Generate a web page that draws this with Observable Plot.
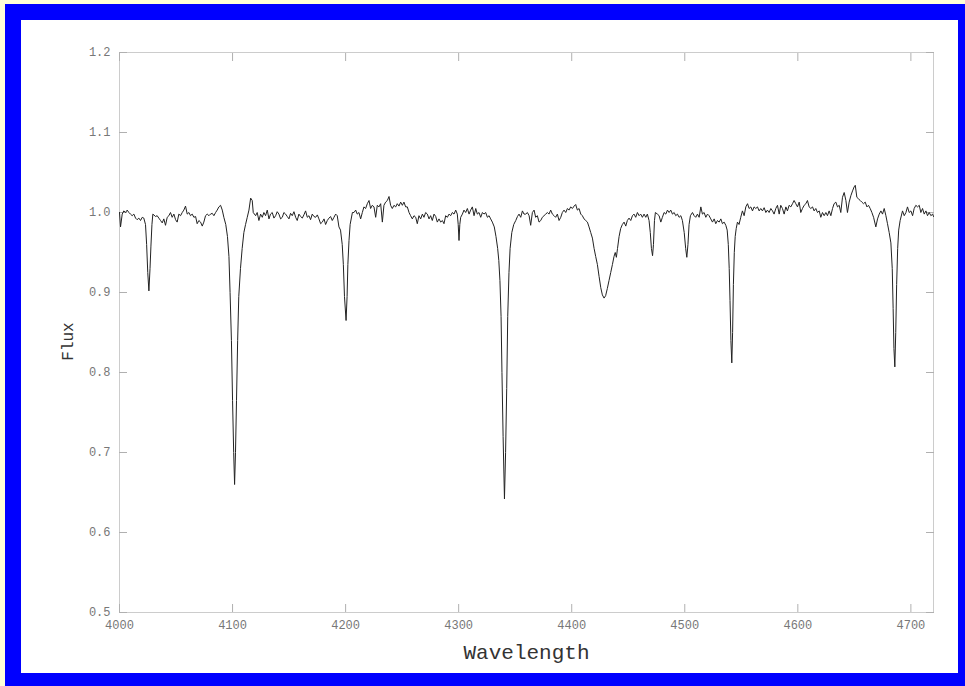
<!DOCTYPE html>
<html>
<head>
<meta charset="utf-8">
<script src="https://cdn.jsdelivr.net/npm/d3@7"></script>
<script src="https://cdn.jsdelivr.net/npm/@observablehq/plot@0.6"></script>
<style>
  html, body { margin: 0; padding: 0; }
  body { width: 965px; height: 686px; overflow: hidden; position: relative; background: #ffffd8; }
  #box { position: absolute; left: 5px; top: 4px; width: 937px; height: 653px; border: 16px solid #0000ff; background: #ffffff; }
  #box svg { display: block; }
</style>
</head>
<body>
<div id="box"></div>
<script>
const wavelength = [
4000.0,4000.9,4002.4,4003.8,4005.3,4006.8,4008.3,4009.7,4011.2,4012.7,4014.2,4015.6,4017.1,4018.6,4020.1,4021.5,
4023.0,4024.0,4025.0,4026.0,4027.0,4027.8,4028.7,4029.5,4031.9,4033.3,4034.8,4036.3,4037.8,4039.2,4040.7,4042.2,
4043.7,4045.1,4046.6,4048.1,4049.6,4051.0,4052.5,4054.0,4055.5,4056.9,4058.4,4059.9,4061.4,4062.8,4064.3,4065.8,
4067.3,4068.7,4070.2,4071.7,4073.2,4074.6,4076.1,4077.6,4079.1,4080.5,4082.0,4083.5,4085.0,4086.4,4087.9,4089.4,
4090.9,4092.3,4094.0,4095.5,4096.8,4097.8,4099.0,4100.0,4101.0,4101.8,4102.6,4103.5,4104.5,4105.5,4107.0,4108.5,
4110.0,4111.5,4113.0,4114.5,4116.0,4117.4,4118.3,4120.4,4121.8,4123.3,4124.8,4126.3,4127.7,4129.2,4130.7,4132.2,
4133.6,4135.1,4136.6,4138.1,4139.5,4141.0,4142.5,4144.0,4145.4,4146.9,4148.4,4149.9,4151.3,4152.8,4154.3,4155.8,
4157.2,4158.7,4160.2,4161.7,4163.1,4164.6,4166.1,4167.6,4169.0,4170.5,4172.0,4173.5,4175.0,4176.4,4177.9,4179.4,
4180.9,4182.3,4183.8,4185.3,4186.7,4188.2,4189.7,4191.2,4192.6,4194.1,4195.5,4197.0,4198.0,4199.0,4200.4,4201.3,
4202.0,4203.0,4204.0,4206.0,4207.4,4208.9,4210.3,4211.8,4213.3,4214.8,4216.2,4217.7,4219.2,4220.7,4222.1,4223.6,
4225.1,4226.6,4228.0,4229.5,4231.0,4232.5,4233.9,4235.4,4236.9,4238.4,4239.8,4241.3,4242.8,4244.3,4245.7,4247.2,
4248.7,4250.2,4251.6,4253.1,4254.6,4256.1,4257.5,4259.0,4260.5,4262.0,4263.4,4264.9,4266.4,4267.9,4269.3,4270.8,
4272.3,4273.8,4275.2,4276.7,4278.2,4279.7,4281.1,4282.6,4284.1,4285.6,4287.0,4288.5,4290.0,4291.5,4292.9,4294.4,
4295.9,4297.4,4298.8,4299.6,4300.3,4301.0,4301.8,4303.3,4304.7,4306.2,4307.7,4309.2,4310.6,4312.1,4313.6,4315.1,
4316.5,4318.0,4319.5,4321.0,4322.4,4323.9,4325.4,4326.9,4328.3,4329.8,4331.5,4333.0,4334.5,4335.5,4336.5,4337.5,
4338.3,4339.3,4340.5,4341.5,4342.5,4343.4,4344.5,4345.5,4347.0,4348.7,4350.5,4352.0,4353.4,4354.9,4356.4,4357.8,
4359.3,4360.8,4362.3,4363.7,4365.2,4366.7,4368.1,4369.6,4371.1,4372.6,4374.0,4375.5,4377.0,4378.5,4379.9,4381.4,
4382.9,4384.4,4385.8,4387.3,4388.8,4390.3,4391.7,4393.2,4394.7,4396.2,4397.6,4399.1,4400.6,4402.1,4403.5,4405.0,
4406.5,4408.0,4409.4,4410.9,4412.4,4413.9,4415.3,4416.8,4418.3,4419.8,4421.2,4422.7,4424.2,4425.7,4427.1,4428.6,
4430.0,4431.5,4433.0,4434.5,4436.0,4437.4,4438.5,4439.5,4440.5,4441.9,4443.3,4444.8,4446.3,4447.8,4449.2,4450.7,
4452.2,4453.7,4455.1,4456.6,4458.1,4459.6,4461.0,4462.5,4464.0,4465.5,4466.9,4468.4,4469.5,4470.5,4471.5,4472.3,
4473.2,4474.0,4475.8,4477.3,4478.8,4480.2,4481.7,4483.2,4484.7,4486.1,4487.6,4489.1,4490.6,4492.0,4493.5,4495.0,
4496.5,4497.9,4499.5,4500.8,4501.8,4502.8,4503.8,4505.0,4506.8,4508.3,4509.7,4511.2,4512.7,4514.2,4515.6,4517.1,
4518.6,4520.1,4521.5,4523.0,4524.5,4526.0,4527.4,4528.9,4530.4,4531.9,4533.3,4534.8,4536.3,4537.5,4538.5,4539.3,
4540.0,4540.8,4541.6,4542.3,4543.0,4543.8,4544.6,4545.5,4546.6,4548.0,4549.5,4551.0,4552.5,4554.0,4555.5,4556.9,
4558.4,4559.9,4561.3,4562.8,4564.3,4565.8,4567.2,4568.7,4570.2,4571.7,4573.1,4574.6,4576.1,4577.6,4579.0,4580.5,
4582.0,4583.5,4584.9,4586.4,4587.9,4589.4,4590.8,4592.3,4593.8,4595.3,4596.7,4598.2,4599.7,4601.2,4602.6,4604.1,
4605.6,4607.1,4608.5,4610.0,4611.5,4613.0,4614.4,4615.9,4617.4,4618.9,4620.3,4621.8,4623.3,4624.8,4626.2,4627.7,
4629.2,4630.7,4632.1,4633.6,4635.1,4636.6,4638.0,4639.5,4641.0,4642.5,4643.9,4645.4,4646.9,4648.4,4649.8,4650.8,
4652.2,4653.7,4655.2,4656.6,4658.1,4659.6,4661.1,4662.5,4664.0,4665.5,4667.0,4669.0,4670.5,4672.0,4673.5,4674.9,
4676.4,4677.9,4679.3,4680.8,4682.3,4683.5,4684.3,4685.0,4685.8,4686.6,4687.4,4688.3,4689.2,4690.5,4692.6,4694.1,
4695.6,4697.0,4698.5,4700.0,4701.5,4702.9,4704.4,4705.9,4707.4,4708.8,4710.3,4711.8,4713.3,4714.7,4716.2,4717.7,
4719.2,4720.0
];
const flux = [
1.000,0.982,0.998,1.002,1.000,1.003,1.000,0.998,0.996,0.998,0.993,0.991,0.993,0.990,0.994,0.993,
0.985,0.960,0.925,0.902,0.930,0.958,0.985,0.998,0.995,0.996,0.993,0.990,0.987,0.992,0.984,0.994,
0.996,1.000,0.994,0.998,0.991,0.988,0.998,0.996,1.000,1.003,1.008,0.998,1.000,0.996,0.998,0.994,
0.995,0.986,0.990,0.988,0.983,0.988,0.996,0.998,0.996,0.998,0.999,0.996,1.000,1.003,1.007,1.009,
1.003,0.994,0.985,0.970,0.945,0.900,0.840,0.765,0.700,0.660,0.700,0.765,0.840,0.895,0.930,0.955,
0.975,0.985,0.994,1.003,1.018,1.015,1.000,0.996,1.000,0.990,0.998,0.994,1.000,0.996,1.003,0.992,
0.998,1.000,0.993,0.996,1.001,0.998,0.992,0.994,1.000,0.998,0.995,0.992,0.999,0.996,1.001,0.994,
0.990,0.998,0.995,0.993,0.997,1.002,0.994,0.996,0.991,0.998,0.995,0.994,0.997,0.992,0.986,0.988,
0.992,0.985,0.990,0.993,0.995,0.990,0.994,0.998,0.996,0.982,0.978,0.960,0.935,0.895,0.865,0.895,
0.935,0.965,0.985,1.000,1.000,1.003,0.998,1.000,0.992,1.000,1.007,1.005,1.011,1.015,1.005,1.009,
1.007,0.994,1.009,1.007,1.011,0.988,1.009,1.013,1.015,1.020,1.009,1.005,1.009,1.007,1.011,1.008,
1.013,1.009,1.013,1.007,1.007,1.000,0.996,0.992,0.996,0.994,0.986,0.996,0.992,0.998,0.994,1.000,
0.998,0.992,0.996,0.990,0.998,0.995,0.988,0.992,0.988,0.990,0.986,0.996,0.994,0.998,0.996,1.000,
0.998,1.003,0.998,0.985,0.965,0.985,0.994,0.998,1.003,1.000,1.005,0.998,1.003,1.007,0.996,1.005,
0.998,1.000,0.994,1.000,0.998,1.000,0.994,0.996,0.992,0.988,0.982,0.970,0.955,0.940,0.915,0.870,
0.800,0.720,0.642,0.700,0.780,0.870,0.925,0.955,0.975,0.985,0.990,0.995,0.998,0.994,1.002,0.998,
0.998,1.000,0.996,0.984,1.000,1.003,0.994,0.996,0.988,0.990,0.994,0.996,0.998,1.000,0.998,1.003,
0.998,0.996,0.994,0.998,0.990,0.994,1.000,1.003,1.000,1.005,1.003,1.007,1.005,1.008,1.010,1.003,
1.005,0.998,0.996,0.992,0.990,0.988,0.982,0.975,0.968,0.955,0.945,0.935,0.920,0.906,0.897,0.893,
0.896,0.905,0.915,0.925,0.935,0.945,0.950,0.944,0.955,0.970,0.980,0.985,0.988,0.983,0.990,0.993,
0.990,0.996,0.998,0.994,1.000,0.996,0.998,0.994,0.998,0.994,0.998,0.990,0.975,0.955,0.946,0.960,
0.990,1.000,0.998,0.996,0.988,0.994,1.000,0.998,1.003,1.000,1.003,0.998,1.000,0.996,0.998,0.994,
0.996,0.990,0.975,0.955,0.944,0.960,0.985,0.996,1.000,0.996,0.994,0.998,0.994,1.007,0.998,1.000,
0.994,0.998,0.996,0.992,0.988,0.992,0.986,0.990,0.988,0.992,0.986,0.988,0.984,0.978,0.960,0.930,
0.890,0.840,0.812,0.850,0.910,0.950,0.970,0.980,0.988,0.985,0.994,1.002,0.996,1.007,1.011,1.005,
1.007,1.002,1.007,1.005,1.007,1.002,1.005,1.002,1.006,1.000,1.003,1.000,1.005,1.002,0.998,1.005,
1.009,0.998,1.009,1.005,0.998,1.007,1.002,1.009,1.007,1.011,1.015,1.011,1.007,1.013,1.000,1.005,
1.009,1.011,1.015,1.007,1.005,1.007,1.002,1.005,1.000,1.002,0.994,1.000,0.996,1.000,0.996,1.002,
0.996,1.005,1.011,1.013,1.007,1.009,1.000,1.019,1.025,1.015,1.000,1.013,1.021,1.027,1.032,1.034,
1.019,1.017,1.015,1.013,1.011,1.013,1.007,1.009,1.005,1.000,0.994,0.982,0.992,0.998,1.002,0.998,
1.005,0.996,0.986,0.975,0.962,0.930,0.880,0.830,0.807,0.850,0.910,0.955,0.978,0.990,1.002,0.996,
1.000,1.007,1.000,1.002,0.996,1.005,1.009,1.007,1.009,1.000,1.005,0.998,1.002,0.996,1.000,0.996,
0.998,0.995
];
const xTicks = [4000, 4100, 4200, 4300, 4400, 4500, 4600, 4700];
const yTicks = [0.5, 0.6, 0.7, 0.8, 0.9, 1.0, 1.1, 1.2];
const xTitle = "Wavelength";
const yTitle = "Flux";

const spectrum = wavelength.map((w, i) => ({wavelength: w, flux: flux[i]}));

const chart = Plot.plot({
  width: 937,
  height: 653,
  marginLeft: 98,
  marginRight: 25,
  marginTop: 32,
  marginBottom: 61,
  style: {fontFamily: "'Liberation Mono', 'DejaVu Sans Mono', monospace", fontSize: "12px", color: "#777", background: "#ffffff"},
  x: {domain: [4000, 4720]},
  y: {domain: [0.5, 1.2]},
  marks: [
    Plot.frame({stroke: "#cccccc"}),
    Plot.axisX({ticks: xTicks, anchor: "bottom", tickSize: -8, text: null, stroke: "#b0b0b0", label: null}),
    Plot.axisX({ticks: xTicks, anchor: "top", tickSize: -8, text: null, stroke: "#b0b0b0", label: null}),
    Plot.axisY({ticks: yTicks, anchor: "left", tickSize: -8, text: null, stroke: "#b0b0b0", label: null}),
    Plot.axisY({ticks: yTicks, anchor: "right", tickSize: -8, text: null, stroke: "#b0b0b0", label: null}),
    Plot.axisX({ticks: xTicks, anchor: "bottom", tickSize: 0, tickPadding: 8, tickFormat: d => String(d), label: null}),
    Plot.axisY({ticks: yTicks, anchor: "left", tickSize: 0, tickPadding: 9, tickFormat: d3.format(".1f"), label: null}),
    Plot.line(spectrum, {x: "wavelength", y: "flux", stroke: "#222", strokeWidth: 1}),
    Plot.text([yTitle], {frameAnchor: "left", dx: -52, dy: 9, rotate: -90, textAnchor: "middle", fontSize: 16, fill: "#333"}),
    Plot.text([xTitle], {frameAnchor: "bottom", dy: 46, textAnchor: "middle", fontSize: 21, fill: "#333"})
  ]
});
document.getElementById("box").appendChild(chart);
</script>
</body>
</html>
